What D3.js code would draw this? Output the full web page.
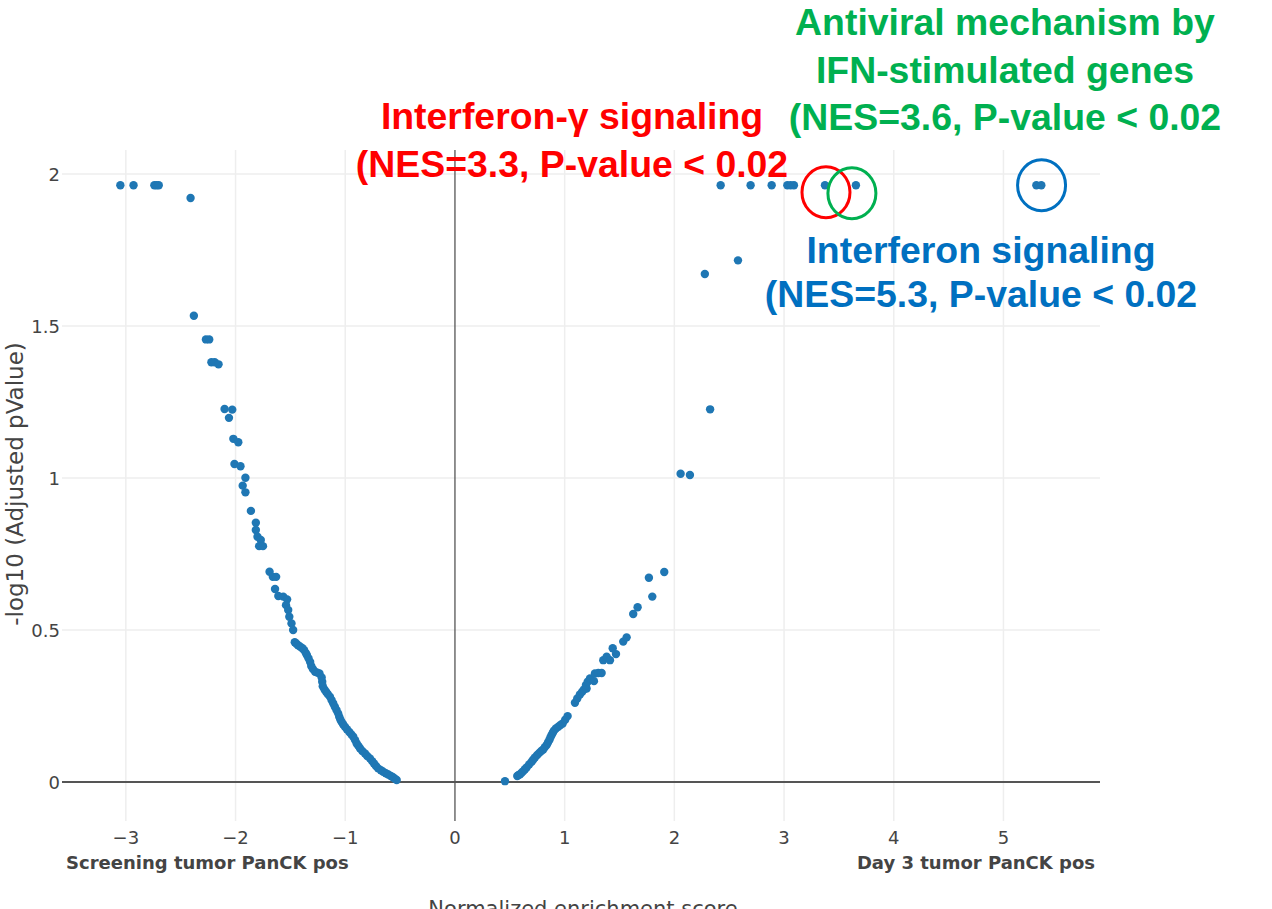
<!DOCTYPE html>
<meta charset="utf-8">
<style>
body { margin: 0; background: #fff; }
svg { display: block; font-family: "DejaVu Sans", Verdana, sans-serif; }
.grid line { stroke: #eee; stroke-width: 1.5px; }
.tick-label { fill: #444; font-size: 18px; }
.side-label { fill: #444; font-size: 18px; font-weight: bold; }
.axis-title { fill: #444; font-size: 21px; }
.note { font-family: "Liberation Sans", Arial, sans-serif; font-weight: bold; font-size: 37.4px; text-anchor: middle; }
</style>

<svg width="1272" height="909"></svg>
<script src="https://cdn.jsdelivr.net/npm/d3@7"></script>
<script>

// Screening tumor PanCK pos side (negative NES)
var screeningNES = [-3.05, -2.93, -2.74, -2.72, -2.70, -2.41, -2.38, -2.27, -2.24, -2.22, -2.19, -2.155,
  -2.10, -2.03, -2.06, -2.02, -1.975, -2.01, -1.955, -1.91, -1.935, -1.91, -1.86, -1.815, -1.815,
  -1.80, -1.77, -1.785, -1.75, -1.69, -1.66, -1.63, -1.64, -1.61, -1.565, -1.53, -1.54, -1.52, -1.51,
  -1.49, -1.475, -1.46, -1.445, -1.43, -1.41, -1.39, -1.375, -1.36, -1.35, -1.335, -1.32, -1.31,
  -1.295, -1.275, -1.255, -1.235, -1.215, -1.21, -1.205, -1.19, -1.175, -1.16, -1.14, -1.125, -1.11,
  -1.095, -1.08, -1.065, -1.055, -1.045, -1.033, -1.02, -1.003, -0.985, -0.963, -0.945, -0.927,
  -0.91, -0.896, -0.88, -0.866, -0.845, -0.82, -0.80, -0.775, -0.755, -0.738, -0.72, -0.70, -0.675,
  -0.654, -0.63, -0.608, -0.585, -0.568, -0.55, -0.531];
var screeningLogP = [1.963, 1.963, 1.963, 1.963, 1.963, 1.921, 1.534, 1.456, 1.456, 1.381, 1.381, 1.374,
  1.227, 1.225, 1.198, 1.129, 1.118, 1.046, 1.039, 1.001, 0.975, 0.953, 0.892, 0.853, 0.829,
  0.807, 0.796, 0.776, 0.776, 0.692, 0.675, 0.675, 0.635, 0.612, 0.610, 0.601, 0.582, 0.566, 0.544,
  0.522, 0.500, 0.460, 0.455, 0.450, 0.445, 0.440, 0.434, 0.425, 0.418, 0.407, 0.395, 0.382,
  0.372, 0.363, 0.360, 0.357, 0.344, 0.330, 0.315, 0.305, 0.297, 0.290, 0.281, 0.270, 0.259,
  0.248, 0.237, 0.226, 0.215, 0.206, 0.198, 0.190, 0.182, 0.174, 0.165, 0.157, 0.149,
  0.138, 0.127, 0.119, 0.111, 0.102, 0.094, 0.086, 0.078, 0.069, 0.061, 0.053, 0.045, 0.039,
  0.034, 0.029, 0.025, 0.020, 0.017, 0.012, 0.007];

// Day 3 tumor PanCK pos side (positive NES)
var day3NES = [0.456, 0.568, 0.58, 0.593, 0.608, 0.623, 0.638, 0.653, 0.676, 0.699, 0.714, 0.729,
  0.75, 0.769, 0.787, 0.805, 0.82, 0.836, 0.848, 0.860, 0.870, 0.881, 0.892, 0.902, 0.92, 0.942,
  0.962, 0.982, 1.005, 1.027, 1.094, 1.115, 1.139, 1.16, 1.176, 1.200, 1.194, 1.21, 1.231, 1.267,
  1.276, 1.307, 1.337, 1.352, 1.383, 1.413, 1.438, 1.468, 1.534, 1.565, 1.625, 1.665, 1.768, 1.799,
  1.908, 2.057, 2.142, 2.278, 2.326, 2.580, 2.422, 2.695, 2.887, 3.03, 3.06, 3.09, 3.373, 3.655,
  5.30, 5.345];
var day3LogP = [0.003, 0.020, 0.023, 0.026, 0.031, 0.036, 0.042, 0.048, 0.058, 0.067, 0.074, 0.081,
  0.089, 0.096, 0.102, 0.107, 0.115, 0.122, 0.130, 0.138, 0.147, 0.155, 0.162, 0.169, 0.176, 0.182,
  0.188, 0.193, 0.205, 0.217, 0.261, 0.275, 0.288, 0.297, 0.305, 0.308, 0.319, 0.330, 0.341, 0.332,
  0.357, 0.359, 0.359, 0.401, 0.412, 0.401, 0.440, 0.421, 0.462, 0.476, 0.553, 0.575, 0.672, 0.610,
  0.691, 1.014, 1.010, 1.671, 1.226, 1.716, 1.963, 1.963, 1.963, 1.963, 1.963, 1.963, 1.963, 1.963,
  1.963, 1.963];

var xTicks = [-3, -2, -1, 0, 1, 2, 3, 4, 5];
var yTicks = [0, 0.5, 1, 1.5, 2];

// highlighted pathways
var noteNES = [3.373, 3.655, 5.32];
var noteColor = ["#ff0000", "#00b050", "#0070c0"];
var noteLines = [
  ["Interferon-\u03b3 signaling", "(NES=3.3, P-value < 0.02"],
  ["Antiviral mechanism by", "IFN-stimulated genes", "(NES=3.6, P-value < 0.02"],
  ["Interferon signaling", "(NES=5.3, P-value < 0.02"]
];

var svg = d3.select("svg");
var plotL = 62, plotR = 1100, plotT = 150, plotB = 821;

var x = d3.scaleLinear().domain([-3.582, 5.88]).range([plotL, plotR]);
var y = d3.scaleLinear().domain([-0.128, 2.079]).range([plotB, plotT]);

// grid
var grid = svg.append("g").attr("class", "grid");
grid.selectAll(".gx").data(xTicks.filter(function(d) { return d !== 0; }))
  .enter().append("line")
  .attr("x1", function(d) { return x(d); }).attr("x2", function(d) { return x(d); })
  .attr("y1", plotT).attr("y2", plotB);
grid.selectAll(".gy").data(yTicks.filter(function(d) { return d !== 0; }))
  .enter().append("line")
  .attr("x1", plotL).attr("x2", plotR)
  .attr("y1", function(d) { return y(d); }).attr("y2", function(d) { return y(d); });

// zero lines
svg.append("line").attr("x1", x(0)).attr("x2", x(0)).attr("y1", plotT).attr("y2", plotB)
  .attr("stroke", "#555").attr("stroke-width", 1.3);
svg.append("line").attr("x1", plotL).attr("x2", plotR).attr("y1", y(0)).attr("y2", y(0))
  .attr("stroke", "#555").attr("stroke-width", 2);

// tick labels
svg.selectAll(".xt").data(xTicks).enter().append("text")
  .attr("class", "tick-label")
  .attr("x", function(d) { return x(d); })
  .attr("y", 844)
  .attr("text-anchor", "middle")
  .text(function(d) { return d < 0 ? "\u2212" + Math.abs(d) : d; });
svg.selectAll(".yt").data(yTicks).enter().append("text")
  .attr("class", "tick-label")
  .attr("x", 60)
  .attr("y", function(d) { return y(d) + 6.5; })
  .attr("text-anchor", "end")
  .text(function(d) { return d; });

svg.append("text").attr("class", "side-label").attr("x", 66).attr("y", 869)
  .text("Screening tumor PanCK pos");
svg.append("text").attr("class", "side-label").attr("x", 1095).attr("y", 869)
  .attr("text-anchor", "end").text("Day 3 tumor PanCK pos");

svg.append("text").attr("class", "axis-title")
  .attr("transform", "translate(23,484) rotate(-90)")
  .attr("text-anchor", "middle")
  .style("font-size", "23px")
  .text("-log10 (Adjusted pValue)");
svg.append("text").attr("class", "axis-title")
  .attr("x", 583).attr("y", 916).attr("text-anchor", "middle")
  .text("Normalized enrichment score");

// points
var points = screeningNES.map(function(d, i) { return {nes: d, p: screeningLogP[i]}; })
  .concat(day3NES.map(function(d, i) { return {nes: d, p: day3LogP[i]}; }));

svg.append("g").selectAll("circle").data(points).enter().append("circle")
  .attr("cx", function(d) { return x(d.nes); })
  .attr("cy", function(d) { return y(d.p); })
  .attr("r", 4.2)
  .attr("fill", "#1f77b4");

// annotation rings around highlighted points
var ringDx = [1, -4, 3], ringDy = [7, 8, 0];
svg.append("g").selectAll("ellipse").data(noteNES).enter().append("ellipse")
  .attr("cx", function(d, i) { return x(d) + ringDx[i]; })
  .attr("cy", function(d, i) { return y(1.963) + ringDy[i]; })
  .attr("rx", 24).attr("ry", 25.5)
  .attr("fill", "none")
  .attr("stroke", function(d, i) { return noteColor[i]; })
  .attr("stroke-width", 3);

// annotation text
var noteX = [572, 1005, 981], noteY = [129, 35, 263], noteStep = [48, 47.5, 44];
noteLines.forEach(function(lines, i) {
  var t = svg.append("text").attr("class", "note").attr("fill", noteColor[i]);
  lines.forEach(function(s, j) {
    t.append("tspan").attr("x", noteX[i]).attr("y", noteY[i] + j * noteStep[i]).text(s);
  });
});

</script>
